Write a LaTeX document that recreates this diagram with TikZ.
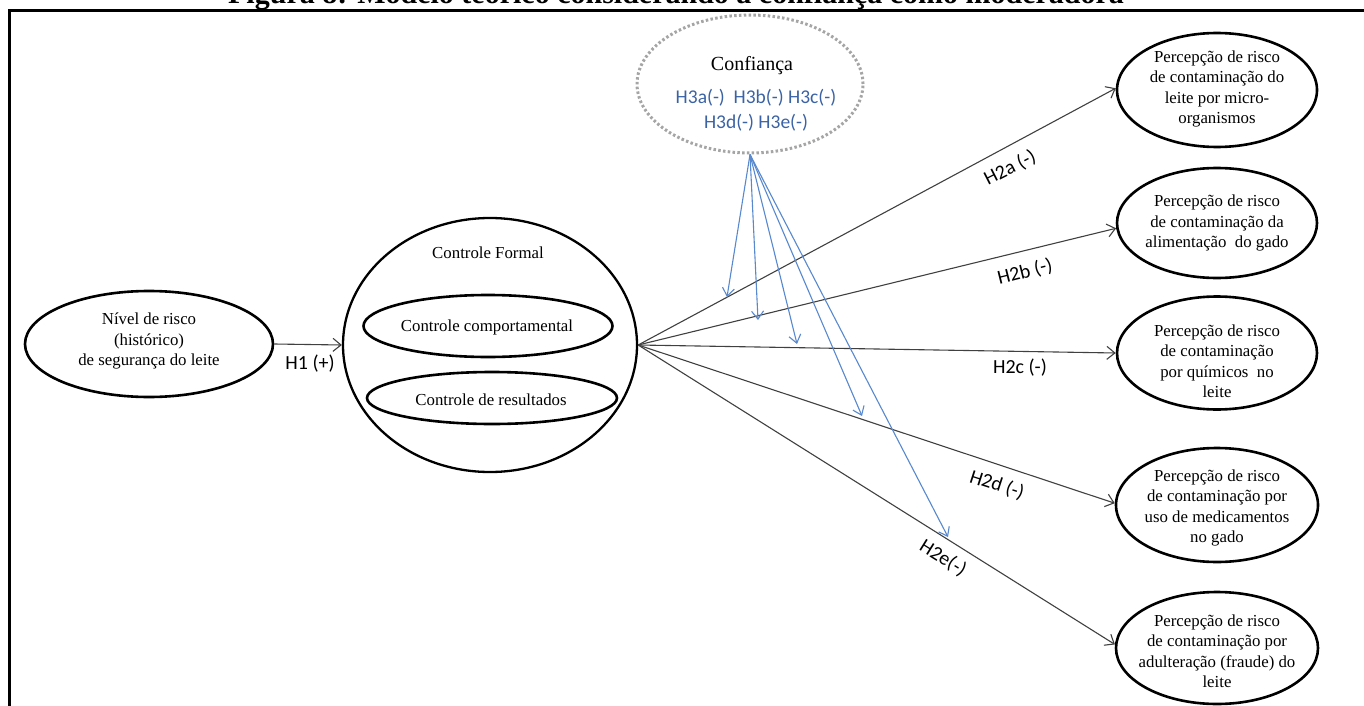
\documentclass[tikz,border=0pt]{standalone}
\usepackage{fontspec}
\setmainfont{Liberation Serif}
\newfontfamily\calibri{Carlito}
\usetikzlibrary{shapes.geometric,arrows.meta}
\definecolor{linegray}{RGB}{64,64,64}
\definecolor{modblue}{RGB}{88,136,206}
\definecolor{modtext}{RGB}{58,98,165}
\definecolor{dotgray}{RGB}{165,165,165}

\begin{document}
\begin{tikzpicture}[x=1pt,y=-1pt,
  oval/.style={draw=black, line width=2.6pt, ellipse, inner sep=0pt},
  body/.style={font=\fontsize{16.8}{20.5}\selectfont, align=center, inner sep=0pt},
  hyp/.style={draw=linegray, line width=1.1pt, -{Straight Barb[length=8pt,width=13pt]}},
  mod/.style={draw=modblue, line width=1.1pt, -{Straight Barb[length=8pt,width=12pt]}},
  hlabel/.style={font=\calibri\fontsize{20}{24}\selectfont, inner sep=0pt},
]
\useasboundingbox (0,0) rectangle (1364,706);
\clip (0,0) rectangle (1364,706);

% caption and frame
\node[font=\bfseries\fontsize{30}{30}\selectfont, anchor=base, inner sep=0pt] (title) at (676,4)
  {Figura 8: Modelo teórico considerando a confiança como moderadora};
\draw[line width=3pt] (1372,10.5) -- (9.5,10.5) -- (9.5,712);

% antecedent
\node[oval, minimum width=248pt, minimum height=106pt] (risk) at (149,344) {};
\node[body] (riskt) at (149,341) {Nível de risco\\(histórico)\\de segurança do leite};

% formal control with its two dimensions
\node[oval, line width=2.3pt, minimum width=294pt, minimum height=254pt] (ctrl) at (490,345) {};
\node[body] (ctrlt) at (488,253) {Controle Formal};
\node[oval, minimum width=249pt, minimum height=62pt] (comp) at (488,326) {};
\node[body] (compt) at (487,327) {Controle comportamental};
\node[oval, minimum width=250pt, minimum height=52pt] (res) at (492,398) {};
\node[body] (rest) at (491,400) {Controle de resultados};

% moderator
\node[draw=dotgray, line width=3pt, dash pattern=on 2.5pt off 2.3pt, ellipse, inner sep=0pt,
      minimum width=226pt, minimum height=138pt] (conf) at (750,84) {};
\node[font=\fontsize{20}{24}\selectfont, inner sep=0pt] (conft) at (752,66) {Confiança};
\node[font=\calibri\fontsize{19.5}{24.5}\selectfont, text=modtext, align=center, inner sep=0pt] (h3)
  at (756,110) {H3a(-)\ \ H3b(-) H3c(-)\\H3d(-) H3e(-)};

% risk perception outcomes
\node[oval, minimum width=200pt, minimum height=114pt] (p1) at (1217,90) {};
\node[body] (p1t) at (1217,89) {Percepção de risco\\de contaminação do\\leite por micro-\\organismos};
\node[oval, minimum width=200pt, minimum height=110pt] (p2) at (1217,223) {};
\node[body] (p2t) at (1217,223) {Percepção de risco\\de contaminação da\\alimentação\ \ do gado};
\node[oval, minimum width=200pt, minimum height=113pt] (p3) at (1217,353) {};
\node[body] (p3t) at (1217,361) {Percepção de risco\\de contaminação\\por químicos\ \ no\\leite};
\node[oval, minimum width=202pt, minimum height=114pt] (p4) at (1217,505) {};
\node[body] (p4t) at (1217,508) {Percepção de risco\\de contaminação por\\uso de medicamentos\\no gado};
\node[oval, minimum width=202pt, minimum height=112pt] (p5) at (1217,648) {};
\node[body] (p5t) at (1217,651) {Percepção de risco\\de contaminação por\\adulteração (fraude) do\\leite};

% hypotheses H1 and H2
\draw[hyp] (risk.east) -- (ctrl.west);
\node[hlabel] (h1) at (310,364) {H1 (+)};
\draw[hyp] (ctrl.east) -- (p1.179);
\draw[hyp] (ctrl.east) -- (p2.183);
\draw[hyp] (ctrl.east) -- (p3.180);
\draw[hyp] (ctrl.east) -- (p4.179);
\draw[hyp] (ctrl.east) -- (p5.178);
\node[hlabel, rotate=27] (h2a) at (1010,168) {H2a (-)};
\node[hlabel, rotate=14] (h2b) at (1025,272) {H2b (-)};
\node[hlabel] (h2c) at (1020,368) {H2c (-)};
\node[hlabel, rotate=-18] (h2d) at (997,485) {H2d (-)};
\node[hlabel, rotate=-32] (h2e) at (943,558) {H2e(-)};

% moderation arrows (H3)
\coordinate (m1) at (727,297);
\coordinate (m2) at (758,320);
\coordinate (m3) at (797,344);
\coordinate (m4) at (862,416);
\coordinate (m5) at (948,537);
\foreach \t in {m1,m2,m3,m4,m5}
  \draw[mod] (conf.south) -- (\t);
\end{tikzpicture}
\end{document}
